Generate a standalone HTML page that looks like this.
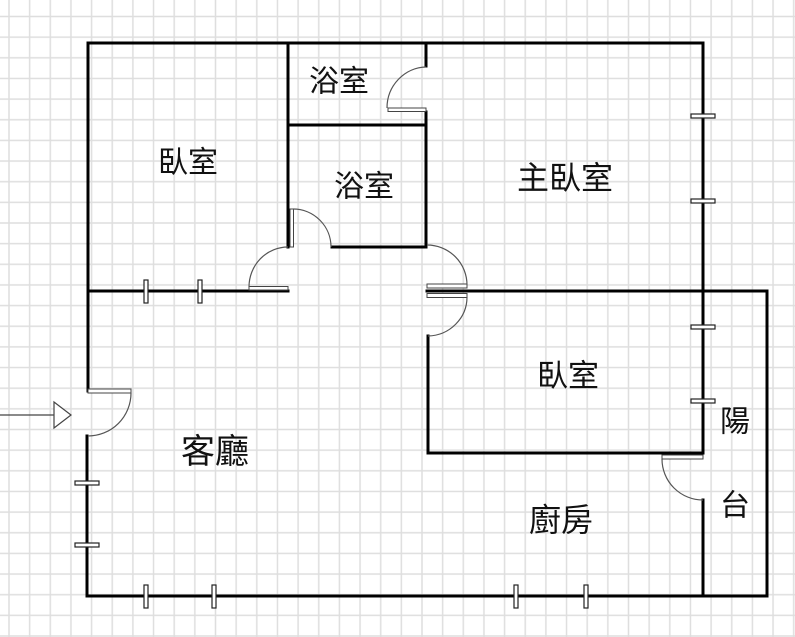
<!DOCTYPE html>
<html>
<head>
<meta charset="utf-8">
<style>
  html,body{margin:0;padding:0;background:#fff;}
  svg{display:block;}
  text{font-family:"Liberation Sans","Noto Sans CJK TC","Noto Sans CJK SC",sans-serif;fill:#111;}
</style>
</head>
<body>
<svg width="795" height="637" viewBox="0 0 795 637" xmlns="http://www.w3.org/2000/svg">
  <defs>
    <pattern id="grid" x="-1.325" y="6.175" width="20.65" height="20.65" patternUnits="userSpaceOnUse">
      <path d="M10.325,0 V20.65 M0,10.325 H20.65" stroke="#dedede" stroke-width="1.5" fill="none"/>
    </pattern>
  </defs>
  <rect x="0" y="0" width="795" height="637" fill="#fff"/>
  <rect x="0" y="0" width="795" height="637" fill="url(#grid)"/>

  <g stroke="#000" stroke-width="3" fill="none" stroke-linecap="square">
    <path d="M88,43 H703"/>
    <path d="M88,43 V391"/>
    <path d="M87,436 V596"/>
    <path d="M87,596 H767"/>
    <path d="M767,291 V596"/>
    <path d="M427,291 H767"/>
    <path d="M88,291 H288"/>
    <path d="M288,43 V247"/>
    <path d="M288,125 H426"/>
    <path d="M426,43 V66"/>
    <path d="M426,112 V247"/>
    <path d="M332,247 H426"/>
    <path d="M703,43 V453"/>
    <path d="M703,500 V596"/>
    <path d="M428,336 V453"/>
    <path d="M428,453 H703"/>
  </g>

  <g fill="#fff" stroke="#444" stroke-width="1">
    <rect x="249" y="286.5" width="39" height="3.5"/>
    <rect x="290" y="209" width="3.5" height="38"/>
    <rect x="388" y="108" width="38" height="3.5"/>
    <rect x="427" y="284" width="40" height="4"/>
    <rect x="427" y="293.5" width="40" height="4"/>
    <rect x="88" y="389" width="43" height="4"/>
    <rect x="662" y="455" width="41" height="4"/>
  </g>
  <g fill="none" stroke="#555" stroke-width="1.2">
    <path d="M249,287 A39,40 0 0 1 288,247"/>
    <path d="M293,209 A38,38 0 0 1 331,247"/>
    <path d="M426,67 A40,41 0 0 0 387,108"/>
    <path d="M427,245 A40,40 0 0 1 467,285"/>
    <path d="M467,297 A40,39 0 0 1 428,336"/>
    <path d="M131,393 A43,43 0 0 1 88,436"/>
    <path d="M662,459 A41,41 0 0 0 703,500"/>
  </g>

  <g fill="#fff" stroke="#222" stroke-width="1.2">
    <rect x="144" y="280" width="4" height="23"/>
    <rect x="198" y="280" width="4" height="23"/>
    <rect x="144" y="585" width="4" height="23"/>
    <rect x="212" y="585" width="4" height="23"/>
    <rect x="514" y="585" width="4" height="23"/>
    <rect x="584" y="585" width="4" height="23"/>
    <rect x="691" y="114" width="24" height="4"/>
    <rect x="691" y="199" width="24" height="4"/>
    <rect x="691" y="325" width="24" height="4"/>
    <rect x="691" y="399" width="24" height="4"/>
    <rect x="75" y="481" width="24" height="4"/>
    <rect x="75" y="543" width="24" height="4"/>
  </g>

  <line x1="0" y1="415" x2="54" y2="415" stroke="#444" stroke-width="1.2"/>
  <polygon points="54,402 71,415 54,428" fill="#fff" stroke="#444" stroke-width="1.2"/>

  <g text-anchor="middle" dominant-baseline="central">
    <text x="188" y="163" font-size="30">臥室</text>
    <text x="339" y="82" font-size="30">浴室</text>
    <text x="364" y="187" font-size="30">浴室</text>
    <text x="565" y="178" font-size="32">主臥室</text>
    <text x="568" y="376" font-size="31">臥室</text>
    <text x="215" y="452" font-size="34">客廳</text>
    <text x="561" y="520" font-size="32">廚房</text>
    <text x="735" y="422" font-size="30">陽</text>
    <text x="735" y="506" font-size="30">台</text>
  </g>
</svg>
</body>
</html>
